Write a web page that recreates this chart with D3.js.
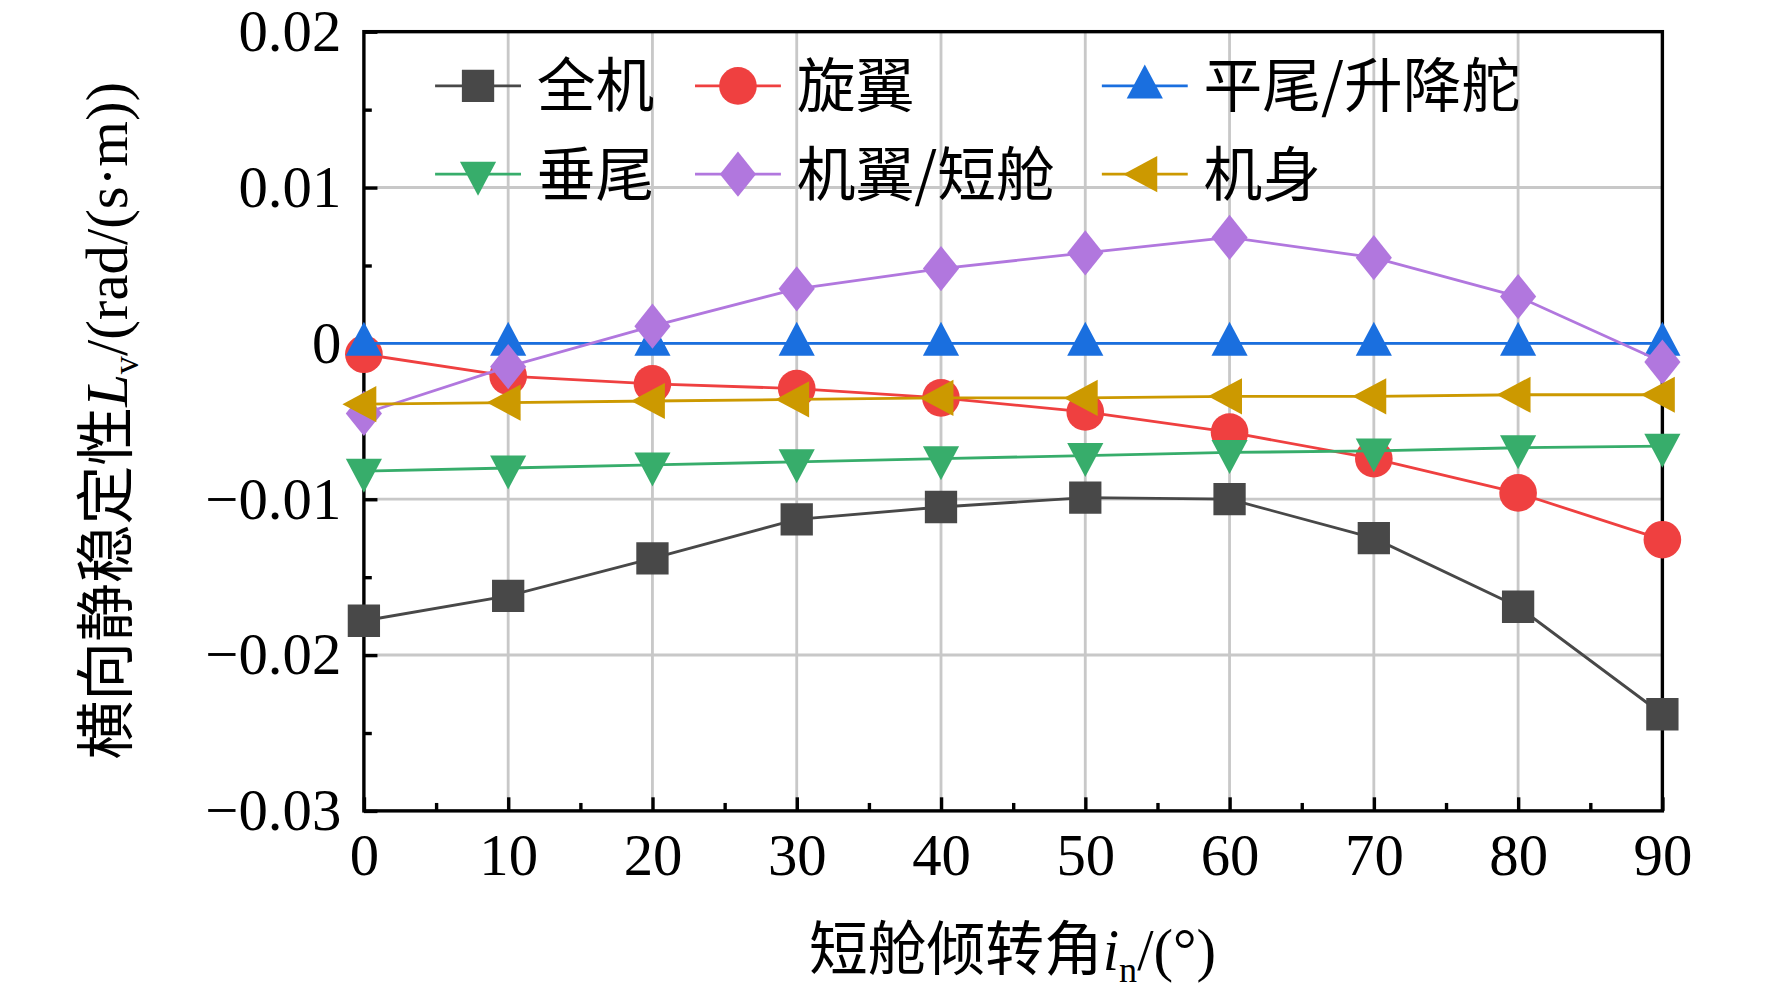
<!DOCTYPE html><html><head><meta charset="utf-8"><script src="https://cdn.jsdelivr.net/npm/d3@7"></script>
<style>body{margin:0;background:#fff}</style></head><body><script>
const angles=[0,10,20,30,40,50,60,70,80,90];
const yTicks=[0.02,0.01,0,-0.01,-0.02,-0.03];
const yTickLabels=["0.02","0.01","0","\u22120.01","\u22120.02","\u22120.03"];
const sAll=[-0.0178,-0.0162,-0.0138,-0.0113,-0.0105,-0.0099,-0.0100,-0.0125,-0.0169,-0.0238];
const sRotor=[-0.0007,-0.0021,-0.0026,-0.0029,-0.0035,-0.0044,-0.0057,-0.0074,-0.0096,-0.0126];
const sHT=[0,0,0,0,0,0,0,0,0,0];
const sVT=[-0.0082,-0.0080,-0.0078,-0.0076,-0.0074,-0.0072,-0.0070,-0.0069,-0.0067,-0.0066];
const sWing=[-0.0045,-0.0015,0.0011,0.0035,0.0048,0.0058,0.0068,0.0055,0.0030,-0.0012];
const sBody=[-0.0039,-0.0038,-0.0037,-0.0036,-0.0035,-0.0035,-0.0034,-0.0034,-0.0033,-0.0033];
const series=[
 {name:"全机",v:sAll,c:"#484848",m:"square"},
 {name:"旋翼",v:sRotor,c:"#ef4040",m:"circle"},
 {name:"平尾/升降舵",v:sHT,c:"#1a6fdf",m:"up"},
 {name:"垂尾",v:sVT,c:"#37ad6b",m:"down"},
 {name:"机翼/短舱",v:sWing,c:"#b177de",m:"diamond"},
 {name:"机身",v:sBody,c:"#cc9900",m:"left"}];
const W=1568,H=886;
const svg=d3.select("body").append("svg").attr("width",1772).attr("height",1002)
 .attr("viewBox",`0 0 ${W} ${H}`).attr("preserveAspectRatio","none");
const x=d3.scaleLinear().domain([0,90]).range([322,1471]);
const y=d3.scaleLinear().domain([-0.03,0.02]).range([717,28]);
const serif="'Liberation Serif','Times New Roman',serif", cjk="'Noto Sans CJK SC',sans-serif";
const g=svg.append("g");
angles.slice(1,-1).forEach(a=>g.append("line").attr("x1",x(a)).attr("x2",x(a)).attr("y1",28).attr("y2",717).attr("stroke","#c8c8c8").attr("stroke-width",2.5));
yTicks.slice(1,-1).forEach(t=>g.append("line").attr("x1",322).attr("x2",1471).attr("y1",y(t)).attr("y2",y(t)).attr("stroke","#c8c8c8").attr("stroke-width",2.5));
g.append("rect").attr("x",322).attr("y",28).attr("width",1149).attr("height",689).attr("fill","none").attr("stroke","#000").attr("stroke-width",3);
const xa=svg.append("g").attr("transform","translate(0,717)").call(d3.axisBottom(x).tickValues(angles).tickSize(-12).tickPadding(20).tickFormat(d3.format("d")));
const xm=svg.append("g").attr("transform","translate(0,717)").call(d3.axisBottom(x).tickValues(d3.range(5,90,10)).tickSize(-7).tickFormat(""));
const ya=svg.append("g").attr("transform","translate(322,0)").call(d3.axisLeft(y).tickValues(yTicks).tickSize(-12).tickPadding(20).tickFormat((d,i)=>yTickLabels[i]));
const ym=svg.append("g").attr("transform","translate(322,0)").call(d3.axisLeft(y).tickValues([0.015,0.005,-0.005,-0.015,-0.025]).tickSize(-7).tickFormat(""));
[xa,xm,ya,ym].forEach(a=>{a.select(".domain").remove();a.selectAll("line").attr("stroke","#000").attr("stroke-width",3);a.selectAll("text").attr("font-family",serif).attr("font-size",52).attr("fill","#000");});
function sym(m){const s=33;return {square:d3.symbol(d3.symbolSquare,s*s*0.75)(),circle:d3.symbol(d3.symbolCircle,s*s*0.8)(),
 diamond:"M0,-20L16,0L0,20L-16,0Z",up:"M0,-19L16,11L-16,11Z",down:"M0,19L16,-11L-16,-11Z",left:"M-19,0L11,-16L11,16Z"}[m];}
const line=d3.line().x((d,i)=>x(angles[i])).y(d=>y(d));
series.forEach(s=>{
 svg.append("path").attr("d",line(s.v)).attr("fill","none").attr("stroke",s.c).attr("stroke-width",2.5);
 svg.selectAll(null).data(s.v).enter().append("path").attr("d",sym(s.m)).attr("fill",s.c)
  .attr("transform",(d,i)=>`translate(${x(angles[i])},${y(d)})`);
});
const legPos=[[385,76],[615,76],[975,76],[385,154],[615,154],[975,154]];
series.forEach((s,i)=>{const [lx,ly]=legPos[i];
 svg.append("line").attr("x1",lx).attr("x2",lx+76).attr("y1",ly).attr("y2",ly).attr("stroke",s.c).attr("stroke-width",2.5);
 svg.append("path").attr("d",sym(s.m)).attr("fill",s.c).attr("transform",`translate(${lx+38},${ly})`);
 svg.append("text").attr("x",lx+90).attr("y",ly+19).attr("font-family",cjk).attr("font-size",52).text(s.name);});
const xt=svg.append("text").attr("x",896).attr("y",858).attr("text-anchor","middle").attr("font-size",52);
xt.append("tspan").attr("font-family",cjk).text("短舱倾转角");
xt.append("tspan").attr("font-family",serif).attr("font-style","italic").text("i");
xt.append("tspan").attr("font-family",serif).attr("font-size",32).attr("dy",10).text("n");
xt.append("tspan").attr("font-family",serif).attr("dy",-10).text("/(°)");
const yt=svg.append("text").attr("transform","translate(112,372) rotate(-90)").attr("text-anchor","middle").attr("font-size",52);
yt.append("tspan").attr("font-family",cjk).text("横向静稳定性");
yt.append("tspan").attr("font-family",serif).attr("font-style","italic").text("L");
yt.append("tspan").attr("font-family",serif).attr("font-size",32).attr("dy",10).text("v");
yt.append("tspan").attr("font-family",serif).attr("dy",-10).text("/(rad/(s·m))");
</script></body></html>
